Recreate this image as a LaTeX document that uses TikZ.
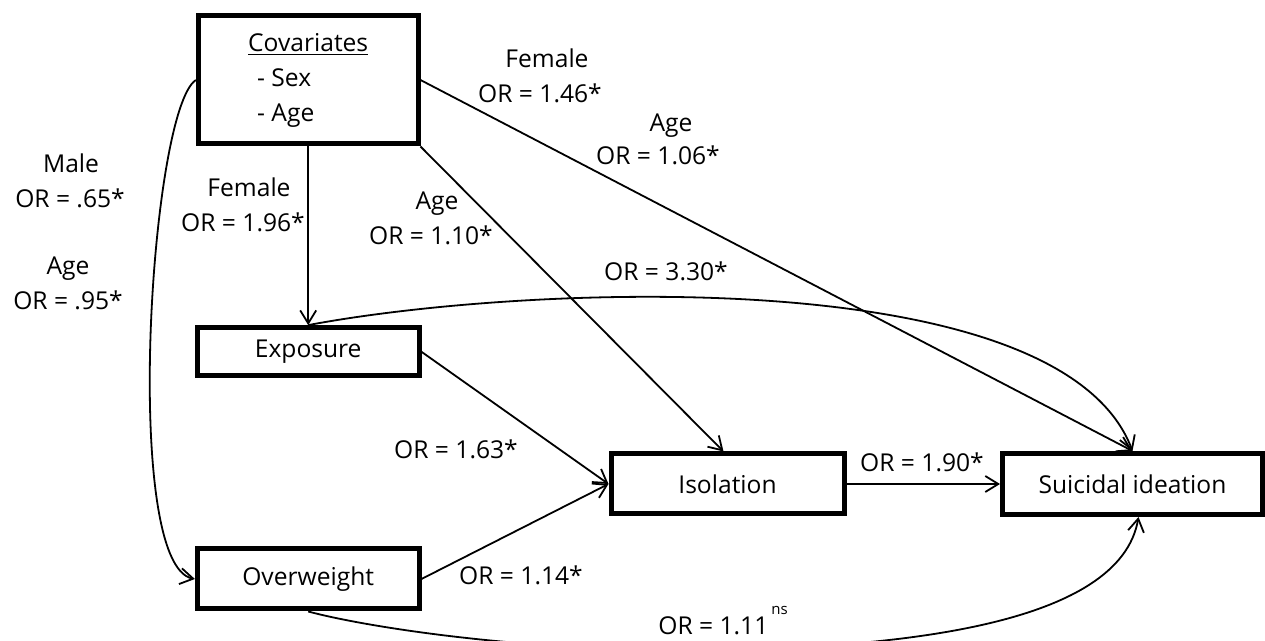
\documentclass[tikz,border=0pt]{standalone}
\usepackage{fontspec}
\setmainfont{Open Sans}
\usetikzlibrary{arrows.meta}
\newcommand{\mylabfont}{\fontsize{12.3}{17.5}\selectfont}
\begin{document}
\begin{tikzpicture}[x=0.5pt,y=-0.5pt,
  box/.style={draw, line width=2.5pt, inner sep=0pt, font=\mylabfont},
  lab/.style={font=\mylabfont, inner sep=0pt, anchor=base},
  arr/.style={line width=0.9pt, -{Straight Barb[length=6.5pt,width=8pt,line width=0.9pt]}}
]
\useasboundingbox (0,0) rectangle (1265,641);
% boxes
\node[box, minimum width=109.8pt, minimum height=64pt, align=left] (cov) at (308.2,80)
  {\underline{Covariates}\\\hspace*{4.5pt}- Sex\\\hspace*{4.5pt}- Age};
\node[box, minimum width=110.8pt, minimum height=24.2pt] (exp) at (308.2,351.8) {Exposure};
\node[box, minimum width=110.8pt, minimum height=30pt] (ovw) at (308.2,579) {Overweight};
\node[box, minimum width=116.5pt, minimum height=30pt] (iso) at (727.5,484) {Isolation};
\node[box, minimum width=130pt, minimum height=30.5pt] (sui) at (1132.5,484) {Suicidal ideation};
\coordinate (low) at (680,650);
% connectors
\draw[arr] (cov.south) -- (exp.north);
\draw[arr] (cov.south east) -- ([xshift=-2pt]iso.north);
\draw[arr] (cov.east) -- (sui.north);
\draw[arr] (exp.north) .. controls (520,285) and (1060,260) .. (sui.north);
\draw[arr] (exp.east) -- (iso.west);
\draw[arr] (ovw.east) -- (iso.west);
\draw[arr] (iso.east) -- (sui.west);
\draw[arr] (cov.west) .. controls (150,110) and (122,565) .. (ovw.west);
\draw[arr] (ovw.south) .. controls (370,628) and (520,650) .. (low)
  .. controls (900,650) and (1120,625) .. ([xshift=3pt]sui.south);
% labels
\node[lab] (l1a) at (71,173) {Male};
\node[lab] (l1b) at (70,208) {OR = .65*};
\node[lab] (l2a) at (68,275) {Age};
\node[lab] (l2b) at (68,310) {OR = .95*};
\node[lab] (l3a) at (249,197) {Female};
\node[lab] (l3b) at (243,232) {OR = 1.96*};
\node[lab] (l4a) at (437,210) {Age};
\node[lab] (l4b) at (431,245) {OR = 1.10*};
\node[lab] (l5a) at (547,68) {Female};
\node[lab] (l5b) at (540,103) {OR = 1.46*};
\node[lab] (l6a) at (671,132) {Age};
\node[lab] (l6b) at (658,165) {OR = 1.06*};
\node[lab] (l7) at (666,281) {OR = 3.30*};
\node[lab] (l8) at (456,459) {OR = 1.63*};
\node[lab] (l9) at (521,585) {OR = 1.14*};
\node[lab] (l10) at (922,472) {OR = 1.90*};
\node[lab, anchor=base west, fill=white, inner sep=1pt] (l11) at (656,635)
  {OR = 1.11\hspace{1.5pt}\raisebox{10pt}{\fontsize{7.5}{9}\selectfont ns}};
\end{tikzpicture}
\end{document}
